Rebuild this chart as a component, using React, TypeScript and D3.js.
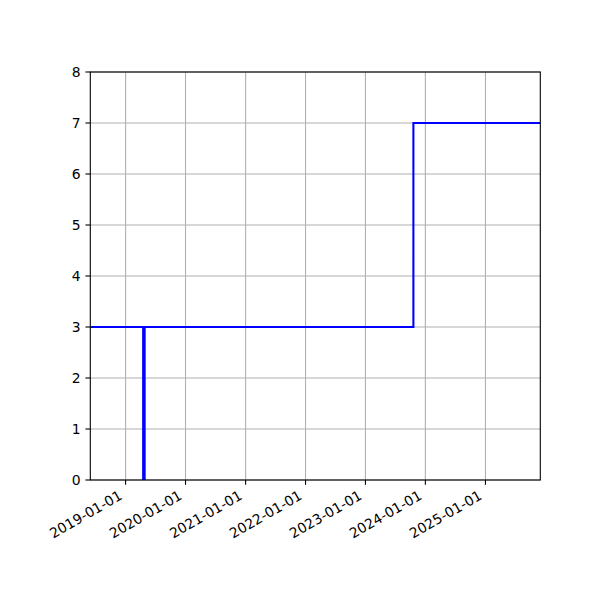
import React, { useEffect, useRef } from 'react';
import * as d3 from 'd3';

// step series (drawn as steps-post)
const dates = ['2018-06-01', '2019-04-18', '2019-04-27', '2023-10-20', '2025-12-01'];
const values = [3, 0, 3, 7, 7];
const yTicks = [0, 1, 2, 3, 4, 5, 6, 7, 8];
const xTickLabels = ['2019-01-01', '2020-01-01', '2021-01-01', '2022-01-01', '2023-01-01', '2024-01-01', '2025-01-01'];

const App: React.FC = () => {
  const svgRef = useRef<SVGSVGElement>(null);

  useEffect(() => {
    if (!svgRef.current) return;
    const width = 600;
    const height = 600;
    const m = { left: 90.3, right: 59.7, top: 72, bottom: 120 };
    const font = 'DejaVu Sans, sans-serif';
    const fs = 13.9;
    const tickLen = 4.86;

    const svg = d3.select(svgRef.current)
      .attr('width', width)
      .attr('height', height);
    svg.selectAll('*').remove();

    svg.append('rect').attr('width', width).attr('height', height).attr('fill', 'white');

    const parse = d3.utcParse('%Y-%m-%d');
    const data = dates.map((d, i) => ({ date: parse(d) as Date, value: values[i] }));

    const x = d3.scaleUtc()
      .domain([parse('2018-05-31') as Date, parse('2025-12-01') as Date])
      .range([m.left, width - m.right]);
    const y = d3.scaleLinear()
      .domain([0, 8])
      .range([height - m.bottom, m.top]);

    const xTicks = xTickLabels.map(t => parse(t) as Date);
    const g = svg.append('g');

    // grid
    g.selectAll('.gx').data(xTicks).enter().append('line')
      .attr('x1', d => x(d)).attr('x2', d => x(d))
      .attr('y1', y(0)).attr('y2', y(8))
      .attr('stroke', '#b0b0b0').attr('stroke-width', 1.1);
    g.selectAll('.gy').data(yTicks).enter().append('line')
      .attr('x1', x.range()[0]).attr('x2', x.range()[1])
      .attr('y1', d => y(d)).attr('y2', d => y(d))
      .attr('stroke', '#b0b0b0').attr('stroke-width', 1.1);

    // line
    const line = d3.line<{ date: Date; value: number }>()
      .x(d => x(d.date))
      .y(d => y(d.value))
      .curve(d3.curveStepAfter);
    svg.append('clipPath').attr('id', 'clip')
      .append('rect')
      .attr('x', x.range()[0]).attr('y', y(8))
      .attr('width', x.range()[1] - x.range()[0]).attr('height', y(0) - y(8));
    g.append('path')
      .datum(data)
      .attr('d', line)
      .attr('fill', 'none')
      .attr('stroke', 'blue')
      .attr('stroke-width', 2.08)
      .attr('clip-path', 'url(#clip)');

    // spines
    g.append('rect')
      .attr('x', x.range()[0]).attr('y', y(8))
      .attr('width', x.range()[1] - x.range()[0]).attr('height', y(0) - y(8))
      .attr('fill', 'none').attr('stroke', 'black').attr('stroke-width', 1.1);

    // y ticks
    const yt = g.selectAll('.yt').data(yTicks).enter().append('g');
    yt.append('line')
      .attr('x1', x.range()[0] - tickLen).attr('x2', x.range()[0])
      .attr('y1', d => y(d)).attr('y2', d => y(d))
      .attr('stroke', 'black').attr('stroke-width', 1.1);
    yt.append('text')
      .attr('x', x.range()[0] - tickLen * 2)
      .attr('y', d => y(d))
      .attr('dy', '0.35em')
      .attr('text-anchor', 'end')
      .style('font-family', font)
      .style('font-size', `${fs}px`)
      .text(d => d);

    // x ticks, labels rotated 30deg and right-aligned like autofmt_xdate
    const xt = g.selectAll('.xt').data(xTicks).enter().append('g');
    xt.append('line')
      .attr('x1', d => x(d)).attr('x2', d => x(d))
      .attr('y1', y(0)).attr('y2', y(0) + tickLen)
      .attr('stroke', 'black').attr('stroke-width', 1.1);
    const top = y(0) + tickLen * 2;
    xt.append('text')
      .attr('transform', d => `translate(${x(d) - 1},${top + 0.866 * 13})rotate(-30)`)
      .attr('y', -3)
      .attr('text-anchor', 'end')
      .style('font-family', font)
      .style('font-size', `${fs}px`)
      .text((d, i) => xTickLabels[i]);
  }, []);

  return (
    <div style={{ position: 'absolute', left: 0, top: 0 }}>
      <svg ref={svgRef} style={{ display: 'block' }}></svg>
    </div>
  );
};

export default App;
